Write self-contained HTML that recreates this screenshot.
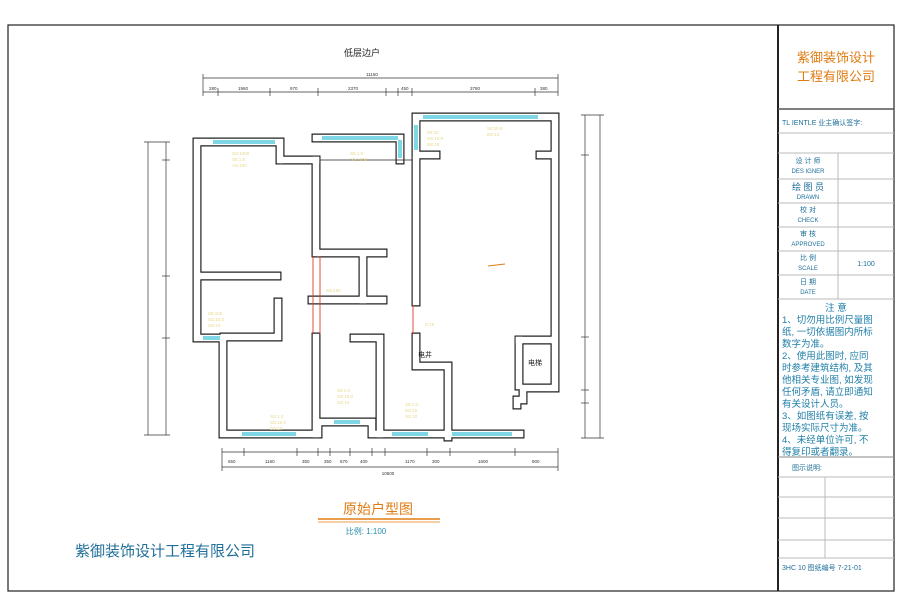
<!DOCTYPE html>
<html><head><meta charset="utf-8"><style>
body{margin:0;background:#fff;width:900px;height:600px;overflow:hidden;font-family:"Liberation Sans","Noto Sans CJK SC",sans-serif;}
</style></head><body>
<svg width="900" height="600" xmlns="http://www.w3.org/2000/svg" font-family="Liberation Sans, Noto Sans CJK SC, sans-serif">
<rect x="0" y="0" width="900" height="600" fill="#fff"/>
<rect x="8" y="25" width="886" height="566" fill="none" stroke="#222" stroke-width="1.2"/>
<line x1="778" y1="25" x2="778" y2="591" stroke="#222" stroke-width="2"/>
<g fill="#e07c12" font-size="13">
<text x="836" y="62" text-anchor="middle">紫御装饰设计</text>
<text x="836" y="81" text-anchor="middle">工程有限公司</text>
</g>
<g stroke="#555" stroke-width="1">
<line x1="778" y1="109" x2="894" y2="109" stroke-width="1.5"/>
<line x1="778" y1="133" x2="894" y2="133" stroke="#bbb"/>
<line x1="778" y1="153" x2="894" y2="153" stroke="#bbb"/>
<line x1="778" y1="179" x2="894" y2="179" stroke="#bbb"/>
<line x1="778" y1="203" x2="894" y2="203" stroke="#bbb"/>
<line x1="778" y1="227" x2="894" y2="227" stroke="#bbb"/>
<line x1="778" y1="251" x2="894" y2="251" stroke="#bbb"/>
<line x1="778" y1="275" x2="894" y2="275" stroke="#bbb"/>
<line x1="778" y1="299" x2="894" y2="299" stroke="#bbb"/>
<line x1="838" y1="153" x2="838" y2="299" stroke="#bbb"/>
<line x1="778" y1="457" x2="894" y2="457" stroke="#888"/>
<line x1="778" y1="477" x2="894" y2="477" stroke="#bbb"/>
<line x1="778" y1="497" x2="894" y2="497" stroke="#bbb"/>
<line x1="778" y1="518" x2="894" y2="518" stroke="#bbb"/>
<line x1="778" y1="540" x2="894" y2="540" stroke="#bbb"/>
<line x1="778" y1="558" x2="894" y2="558" stroke="#bbb"/>
<line x1="825" y1="477" x2="825" y2="558" stroke="#bbb"/>
</g>
<g fill="#1f6f9a" font-size="7">
<text x="782" y="125">TL IENTLE 业主确认签字:</text>
<text x="808" y="163" text-anchor="middle">设 计 师</text><text x="808" y="173" text-anchor="middle" font-size="6">DES IGNER</text>
<text x="808" y="190" text-anchor="middle" font-size="9">绘 图 员</text><text x="808" y="199" text-anchor="middle" font-size="6">DRAWN</text>
<text x="808" y="212" text-anchor="middle">校  对</text><text x="808" y="222" text-anchor="middle" font-size="6">CHECK</text>
<text x="808" y="236" text-anchor="middle">审  核</text><text x="808" y="246" text-anchor="middle" font-size="6">APPROVED</text>
<text x="808" y="260" text-anchor="middle">比  例</text><text x="808" y="270" text-anchor="middle" font-size="6">SCALE</text>
<text x="866" y="266" text-anchor="middle">1:100</text>
<text x="808" y="284" text-anchor="middle">日  期</text><text x="808" y="294" text-anchor="middle" font-size="6">DATE</text>
</g>
<g fill="#1f7fa8" font-size="9.5">
<text x="836" y="311" text-anchor="middle">注 意</text>
<text x="782" y="323">1、切勿用比例尺量图</text>
<text x="782" y="335">纸, 一切依据图内所标</text>
<text x="782" y="347">数字为准。</text>
<text x="782" y="359">2、使用此图时, 应同</text>
<text x="782" y="371">时参考建筑结构, 及其</text>
<text x="782" y="383">他相关专业图, 如发现</text>
<text x="782" y="395">任何矛盾, 请立即通知</text>
<text x="782" y="407">有关设计人员。</text>
<text x="782" y="419">3、如图纸有误差, 按</text>
<text x="782" y="431">现场实际尺寸为准。</text>
<text x="782" y="443">4、未经单位许可, 不</text>
<text x="782" y="455">得复印或者翻录。</text>
</g>
<text x="792" y="470" fill="#1f6f9a" font-size="7">图示说明:</text>
<text x="782" y="570" fill="#1f6f9a" font-size="7">3HC 10 图纸编号 7-21-01</text>

<text x="362" y="56" font-size="9" fill="#222" text-anchor="middle">低层边户</text>

<g stroke="#333" stroke-width="0.7" fill="none">
<line x1="203" y1="78" x2="558" y2="78"/>
<line x1="203" y1="92" x2="558" y2="92"/>
<line x1="203" y1="74" x2="203" y2="96"/><line x1="558" y1="74" x2="558" y2="96"/>
<line x1="218" y1="88" x2="218" y2="96"/><line x1="270" y1="88" x2="270" y2="96"/><line x1="318" y1="88" x2="318" y2="96"/><line x1="386" y1="88" x2="386" y2="96"/><line x1="398" y1="88" x2="398" y2="96"/><line x1="412" y1="88" x2="412" y2="96"/><line x1="535" y1="88" x2="535" y2="96"/>
<line x1="148" y1="142" x2="148" y2="435"/>
<line x1="166" y1="142" x2="166" y2="435"/>
<g><line x1="144" y1="142" x2="170" y2="142"/><line x1="144" y1="435" x2="170" y2="435"/><line x1="162" y1="160" x2="170" y2="160"/><line x1="162" y1="276" x2="170" y2="276"/><line x1="162" y1="338" x2="170" y2="338"/></g>
<line x1="222" y1="452" x2="558" y2="452"/>
<line x1="222" y1="467" x2="558" y2="467"/>
<line x1="222" y1="448" x2="222" y2="471"/><line x1="558" y1="448" x2="558" y2="471"/>
<line x1="244" y1="448" x2="244" y2="456"/><line x1="297" y1="448" x2="297" y2="456"/><line x1="318" y1="448" x2="318" y2="456"/><line x1="330" y1="448" x2="330" y2="456"/><line x1="350" y1="448" x2="350" y2="456"/><line x1="372" y1="448" x2="372" y2="456"/><line x1="385" y1="448" x2="385" y2="456"/><line x1="427" y1="448" x2="427" y2="456"/><line x1="450" y1="448" x2="450" y2="456"/><line x1="515" y1="448" x2="515" y2="456"/>
<line x1="585" y1="115" x2="585" y2="438"/>
<line x1="600" y1="115" x2="600" y2="438"/>
<line x1="581" y1="115" x2="604" y2="115"/><line x1="581" y1="438" x2="604" y2="438"/><line x1="581" y1="155" x2="589" y2="155"/><line x1="581" y1="337" x2="589" y2="337"/><line x1="581" y1="390" x2="589" y2="390"/><line x1="581" y1="403" x2="589" y2="403"/>
</g>
<g fill="#333" font-size="4.5">
<text x="372" y="76" text-anchor="middle">11150</text>
<text x="209" y="90">280</text><text x="238" y="90">1960</text><text x="290" y="90">970</text><text x="348" y="90">2370</text><text x="401" y="90">450</text><text x="470" y="90">3780</text><text x="540" y="90">380</text>
<text x="388" y="475" text-anchor="middle">10500</text>
<text x="228" y="463">650</text><text x="265" y="463">1160</text><text x="302" y="463">350</text><text x="324" y="463">350</text><text x="340" y="463">670</text><text x="360" y="463">400</text><text x="405" y="463">1170</text><text x="432" y="463">300</text><text x="478" y="463">1600</text><text x="532" y="463">900</text>
</g>

<g fill="none" stroke-linejoin="miter" stroke-linecap="square">
<g stroke="#222" stroke-width="9">
<polyline points="280,160 280,142 197,142 197,338 223,338 223,434 318,434 318,422 372,422 372,434 450,434 520,434"/>
<polyline points="316,160 316,253"/>
<polyline points="316,337 316,434"/>
<polyline points="316,138 400,138 400,160"/>
<polyline points="281,160 316,160"/>
<polyline points="416,155 416,117 555,117 555,388 523,388 523,400 517,400 517,405"/>
<polyline points="416,160 416,302"/>
<polyline points="416,337 416,366 448,366 448,437"/>
<polyline points="320,253 383,253"/>
<polyline points="363,256 363,300"/>
<polyline points="312,300 383,300"/>
<polyline points="202,276 277,276"/>
<polyline points="278,302 278,337 224,337"/>
<polyline points="354,338 380,338 380,434"/>
<polyline points="420,155 436,155"/><polyline points="540,155 552,155"/>
<polyline points="519,340 519,386"/><polyline points="552,340 519,340"/>
</g>
<g stroke="#fff" stroke-width="6.6">
<polyline points="280,160 280,142 197,142 197,338 223,338 223,434 318,434 318,422 372,422 372,434 450,434 520,434"/>
<polyline points="316,160 316,253"/>
<polyline points="316,337 316,434"/>
<polyline points="316,138 400,138 400,160"/>
<polyline points="281,160 316,160"/>
<polyline points="416,155 416,117 555,117 555,388 523,388 523,400 517,400 517,405"/>
<polyline points="416,160 416,302"/>
<polyline points="416,337 416,366 448,366 448,437"/>
<polyline points="320,253 383,253"/>
<polyline points="363,256 363,300"/>
<polyline points="312,300 383,300"/>
<polyline points="202,276 277,276"/>
<polyline points="278,302 278,337 224,337"/>
<polyline points="354,338 380,338 380,434"/>
<polyline points="420,155 436,155"/><polyline points="540,155 552,155"/>
<polyline points="519,340 519,386"/><polyline points="552,340 519,340"/>
</g>
</g>
<g stroke="#7fd7e6" stroke-width="4">
<line x1="213" y1="142" x2="275" y2="142"/>
<line x1="203" y1="338" x2="220" y2="338"/>
<line x1="322" y1="138" x2="398" y2="138"/>
<line x1="400" y1="140" x2="400" y2="158"/>
<line x1="423" y1="117" x2="538" y2="117"/>
<line x1="416" y1="125" x2="416" y2="150"/>
<line x1="242" y1="434" x2="296" y2="434"/>
<line x1="334" y1="422" x2="360" y2="422"/>
<line x1="392" y1="434" x2="428" y2="434"/>
<line x1="452" y1="434" x2="512" y2="434"/>
</g>
<line x1="320" y1="160" x2="412" y2="160" stroke="#222" stroke-width="0.8"/>
<g stroke="#e03a2a" stroke-width="0.9">
<line x1="313" y1="256" x2="313" y2="334"/><line x1="320" y1="256" x2="320" y2="334"/>
<line x1="413" y1="305" x2="413" y2="334"/>
</g>
<line x1="488" y1="266" x2="505" y2="264" stroke="#e07c12" stroke-width="1"/>
<text x="418" y="357" font-size="7" fill="#222">电井</text>
<text x="528" y="365" font-size="7" fill="#222">电梯</text>
<g fill="#e8d88a" font-size="4.5">
<text x="232" y="155">SS:1000</text><text x="232" y="161">S5:1.0</text><text x="232" y="167">AS:100</text>
<text x="350" y="155">S5:1.0</text><text x="350" y="161">SS:1050</text>
<text x="427" y="134">S5:10</text><text x="427" y="140">SS:10.9</text><text x="427" y="146">BS:10</text>
<text x="487" y="130">S5:10.9</text><text x="487" y="136">BS:10</text>
<text x="208" y="315">S5:100</text><text x="208" y="321">SS:10.0</text><text x="208" y="327">SS:10</text>
<text x="326" y="292">SS:100</text>
<text x="270" y="418">SS:1.0</text><text x="270" y="424">SS:10.0</text><text x="270" y="430">SS:10</text>
<text x="337" y="392">S5:1.0</text><text x="337" y="398">SS:10.0</text><text x="337" y="404">SS:10</text>
<text x="405" y="406">S5:1.0</text><text x="405" y="412">SS:10</text><text x="405" y="418">SS:10</text>
<text x="425" y="326">S:10</text>
</g>
<text x="378" y="514" text-anchor="middle" font-size="14" fill="#e07c12">原始户型图</text>
<line x1="318" y1="519" x2="440" y2="519" stroke="#e07c12" stroke-width="1.5"/>
<line x1="318" y1="522" x2="440" y2="522" stroke="#e07c12" stroke-width="0.7"/>
<text x="366" y="534" text-anchor="middle" font-size="8" fill="#2a8fb0">比例: 1:100</text>
<text x="75" y="556" font-size="15" fill="#1f6f9a">紫御装饰设计工程有限公司</text>
</svg>
</body></html>
